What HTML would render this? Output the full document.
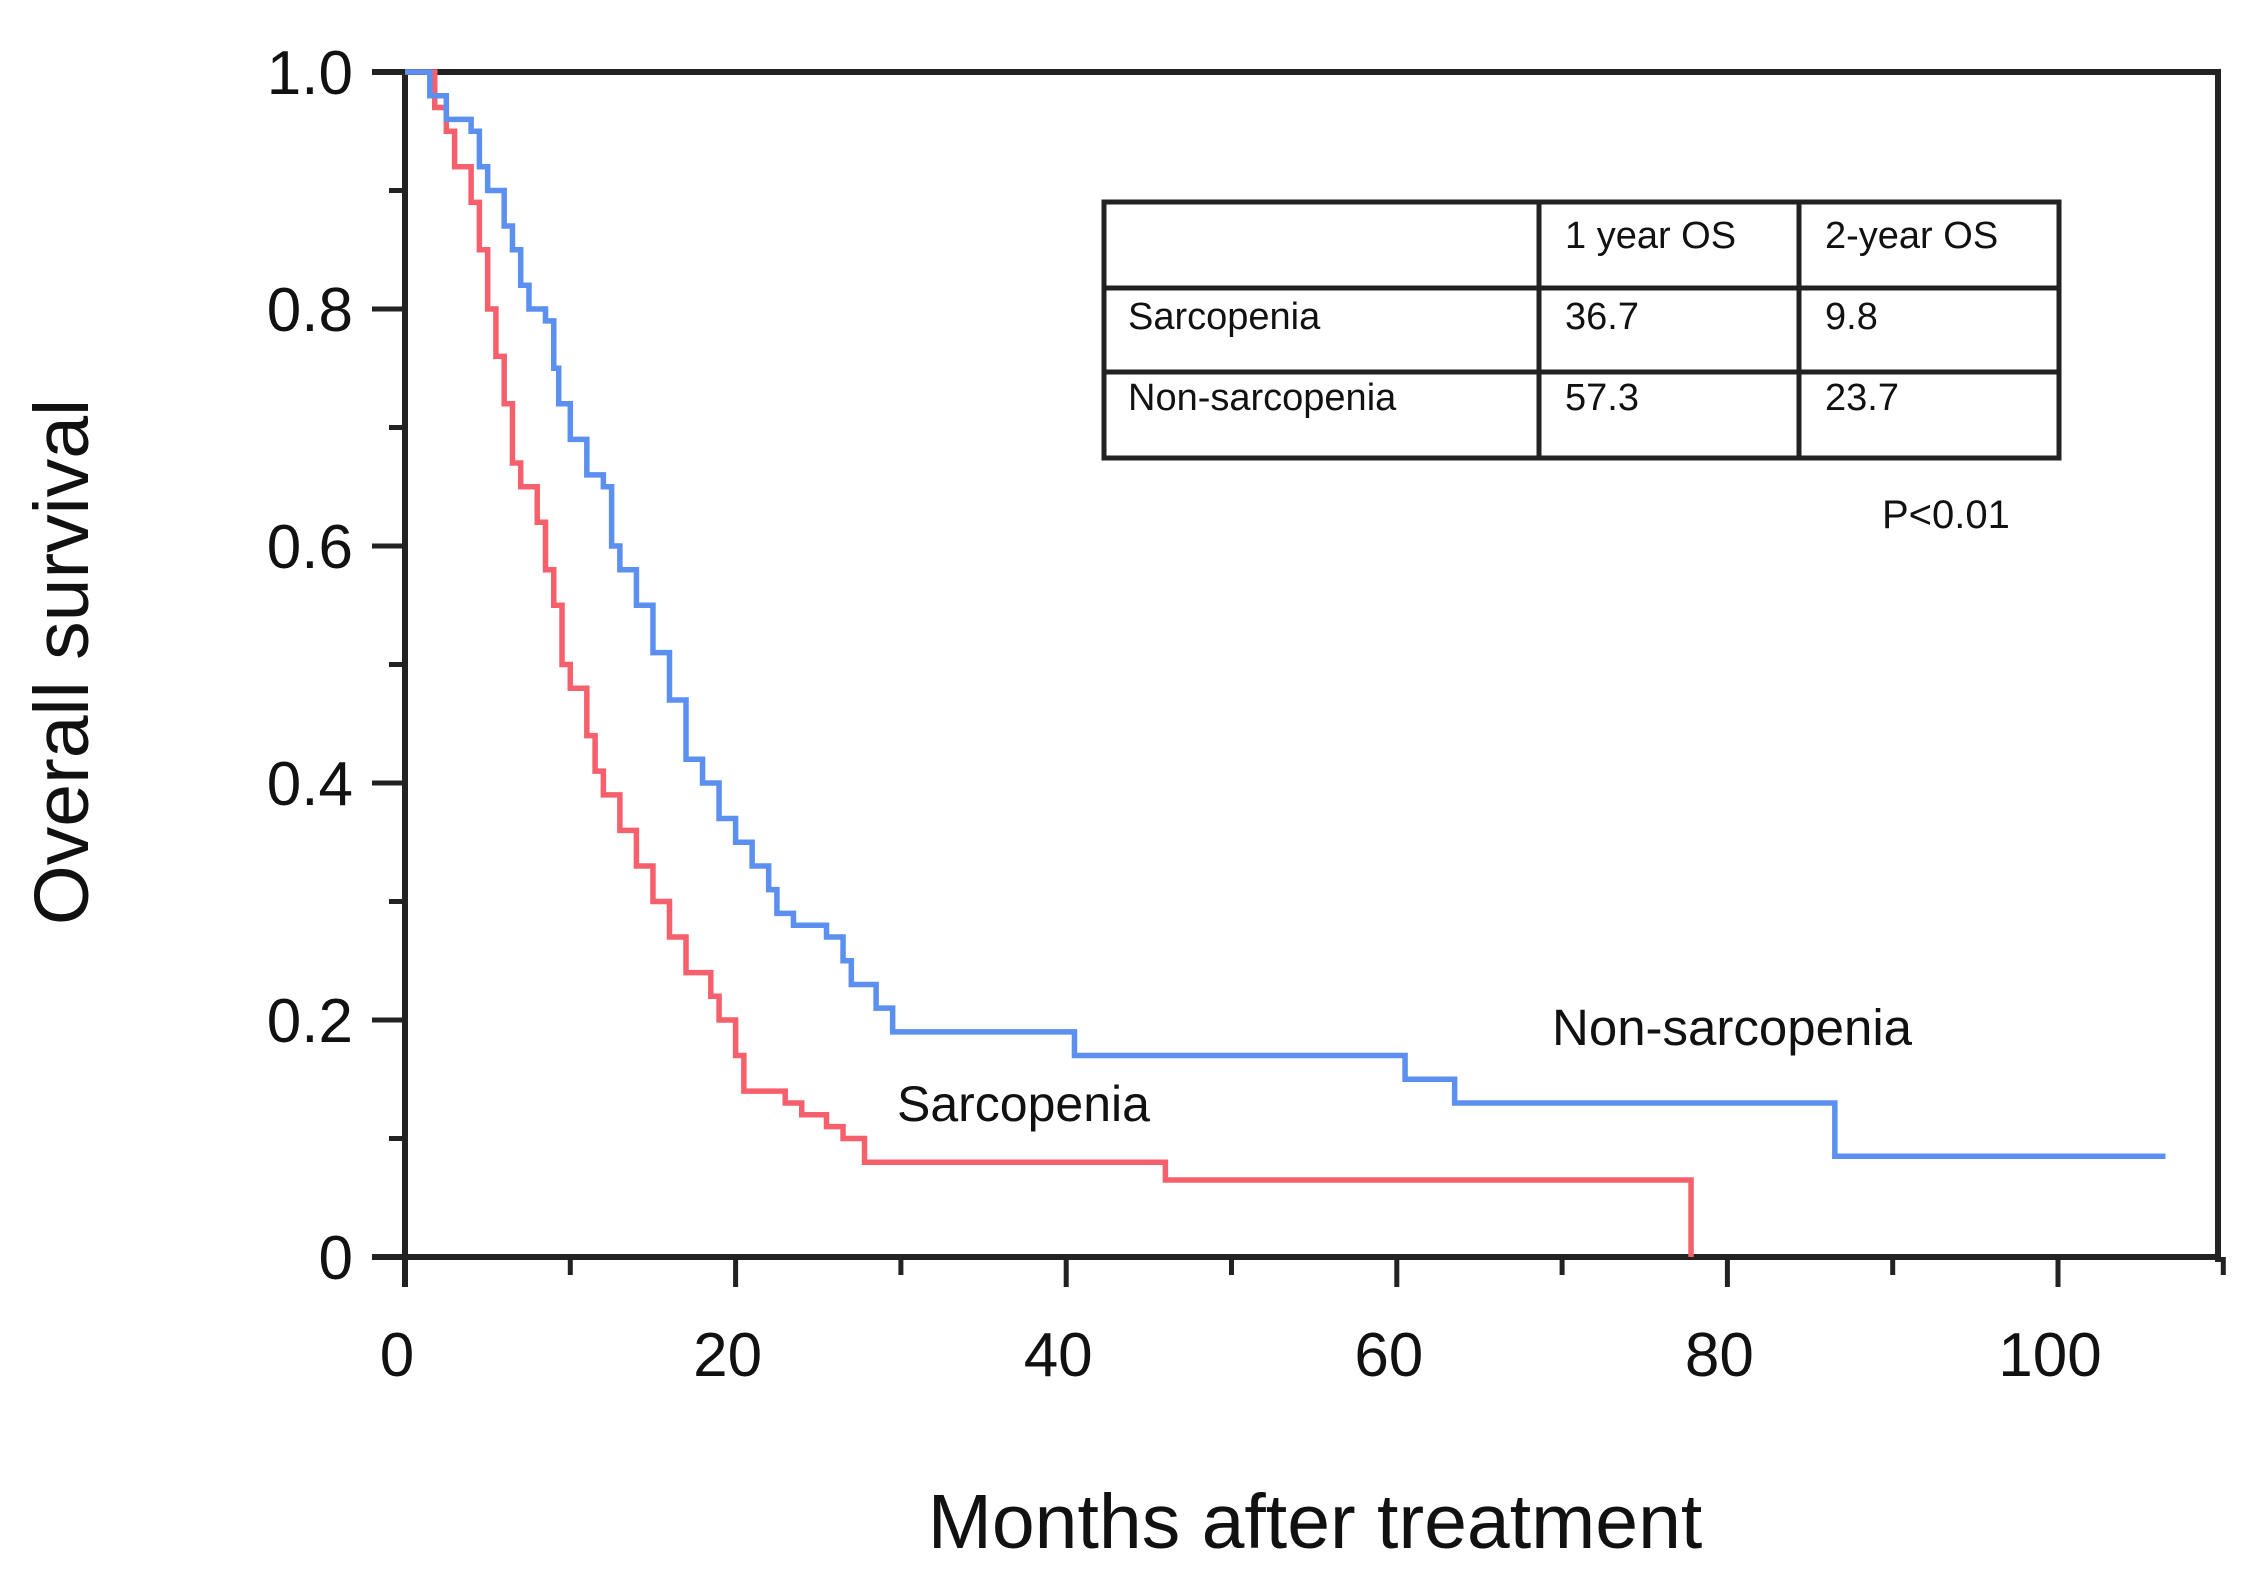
<!DOCTYPE html>
<html><head><meta charset="utf-8"><style>
html,body{margin:0;padding:0;background:#fff;}
svg{display:block;font-family:"Liberation Sans",sans-serif;}
</style></head><body>
<svg id="chart" width="2252" height="1577" viewBox="0 0 2252 1577">
<g id="axes"></g>
<g id="curves"></g>
<g font-size="38" fill="#111" stroke="none">
  <rect x="1104" y="202" width="955" height="256" fill="none" stroke="#222" stroke-width="5"/>
  <line x1="1104" y1="288" x2="2059" y2="288" stroke="#222" stroke-width="5"/>
  <line x1="1104" y1="372" x2="2059" y2="372" stroke="#222" stroke-width="5"/>
  <line x1="1539" y1="202" x2="1539" y2="458" stroke="#222" stroke-width="5"/>
  <line x1="1799" y1="202" x2="1799" y2="458" stroke="#222" stroke-width="5"/>
  <text x="1565" y="248">1 year OS</text>
  <text x="1825" y="248">2-year OS</text>
  <text x="1128" y="329">Sarcopenia</text>
  <text x="1565" y="329">36.7</text>
  <text x="1825" y="329">9.8</text>
  <text x="1128" y="410">Non-sarcopenia</text>
  <text x="1565" y="410">57.3</text>
  <text x="1825" y="410">23.7</text>
</g>
<text x="1882" y="528" font-size="40" fill="#111">P&lt;0.01</text>
<text x="1552" y="1045" font-size="51" fill="#111">Non-sarcopenia</text>
<text x="897" y="1121" font-size="50" fill="#111">Sarcopenia</text>
<text x="1315" y="1548" font-size="77" fill="#111" text-anchor="middle">Months after treatment</text>
<text transform="translate(88,662) rotate(-90)" font-size="77" fill="#111" text-anchor="middle">Overall survival</text>
</svg>
<script>
const xTicks = [0,20,40,60,80,100];
const yTicks = [0,0.2,0.4,0.6,0.8,1.0];
const yTickLabels = ["0","0.2","0.4","0.6","0.8","1.0"];
const nonSarcTimes = [0,1.5,2.5,4,4.5,5,6,6.5,7,7.5,8.5,9,9.3,10,11,12,12.5,13,14,15,16,17,18,19,20,21,22,22.5,23.5,25.5,26.5,27,28.5,29.5,40.5,60.5,63.5,86.5,106.5];
const nonSarcSurv  = [1,0.98,0.96,0.95,0.92,0.9,0.87,0.85,0.82,0.8,0.79,0.75,0.72,0.69,0.66,0.65,0.6,0.58,0.55,0.51,0.47,0.42,0.4,0.37,0.35,0.33,0.31,0.29,0.28,0.27,0.25,0.23,0.21,0.19,0.17,0.15,0.13,0.085,0.085];
const sarcTimes = [0,1.8,2.5,3,4,4.5,5,5.5,6,6.5,7,8,8.5,9,9.5,10,11,11.5,12,13,14,15,16,17,18.5,19,20,20.5,23,24,25.5,26.5,27.8,46,77.8,77.8];
const sarcSurv  = [1,0.97,0.95,0.92,0.89,0.85,0.8,0.76,0.72,0.67,0.65,0.62,0.58,0.55,0.5,0.48,0.44,0.41,0.39,0.36,0.33,0.3,0.27,0.24,0.22,0.2,0.17,0.14,0.13,0.12,0.11,0.1,0.08,0.065,0.065,0];

const X0=405, X1=2058, Y0=1257, Y1=72;
function xs(t){return X0+(X1-X0)*t/100;}
function ys(v){return Y0-(Y0-Y1)*v;}
const NS='http://www.w3.org/2000/svg';
function mk(tag,attrs,parent){const e=document.createElementNS(NS,tag);for(const k in attrs)e.setAttribute(k,attrs[k]);parent.appendChild(e);return e;}
const axes=document.getElementById('axes');
const fr=mk('path',{d:`M372 ${Y1} H2218 V1262 M${X0} ${Y1} V${Y0+30} M372 ${Y0} H2218`,stroke:'#222','stroke-width':6,fill:'none'},axes);


for(let v=0;v<=1.001;v+=0.1){
  const major=Math.round(v*10)%2===0;
  const t=mk('line',{x1:major?372:389,x2:X0,y1:ys(v),y2:ys(v),stroke:'#222','stroke-width':5},axes);
  
  
}
yTicks.forEach((v,i)=>{
  const t=mk('text',{x:353,y:ys(v)+22,'font-size':62,'text-anchor':'end',fill:'#111'},axes);
  t.textContent=yTickLabels[i];
  
  
});
for(let m=0;m<=110;m+=10){
  const major=m%20===0;
  const t=mk('line',{x1:xs(m),x2:xs(m),y1:Y0,y2:Y0+(major?30:18),stroke:'#222','stroke-width':5},axes);
  
  
}
xTicks.forEach(m=>{
  const t=mk('text',{x:xs(m)-8,y:1376,'font-size':62,'text-anchor':'middle',fill:'#111'},axes);
  t.textContent=String(m);
  
  
});
function stepPath(ts,ss){
  let d=`M${xs(ts[0])} ${ys(ss[0])}`;
  for(let i=1;i<ts.length;i++){d+=` H${xs(ts[i])} V${ys(ss[i])}`;}
  return d;
}
const curves=document.getElementById('curves');
const r=mk('path',{d:stepPath(sarcTimes,sarcSurv),stroke:'#f6606c','stroke-width':5.5,fill:'none'},curves);


const b=mk('path',{d:stepPath(nonSarcTimes,nonSarcSurv),stroke:'#5b8ff0','stroke-width':5.5,fill:'none'},curves);


</script>
</body></html>
